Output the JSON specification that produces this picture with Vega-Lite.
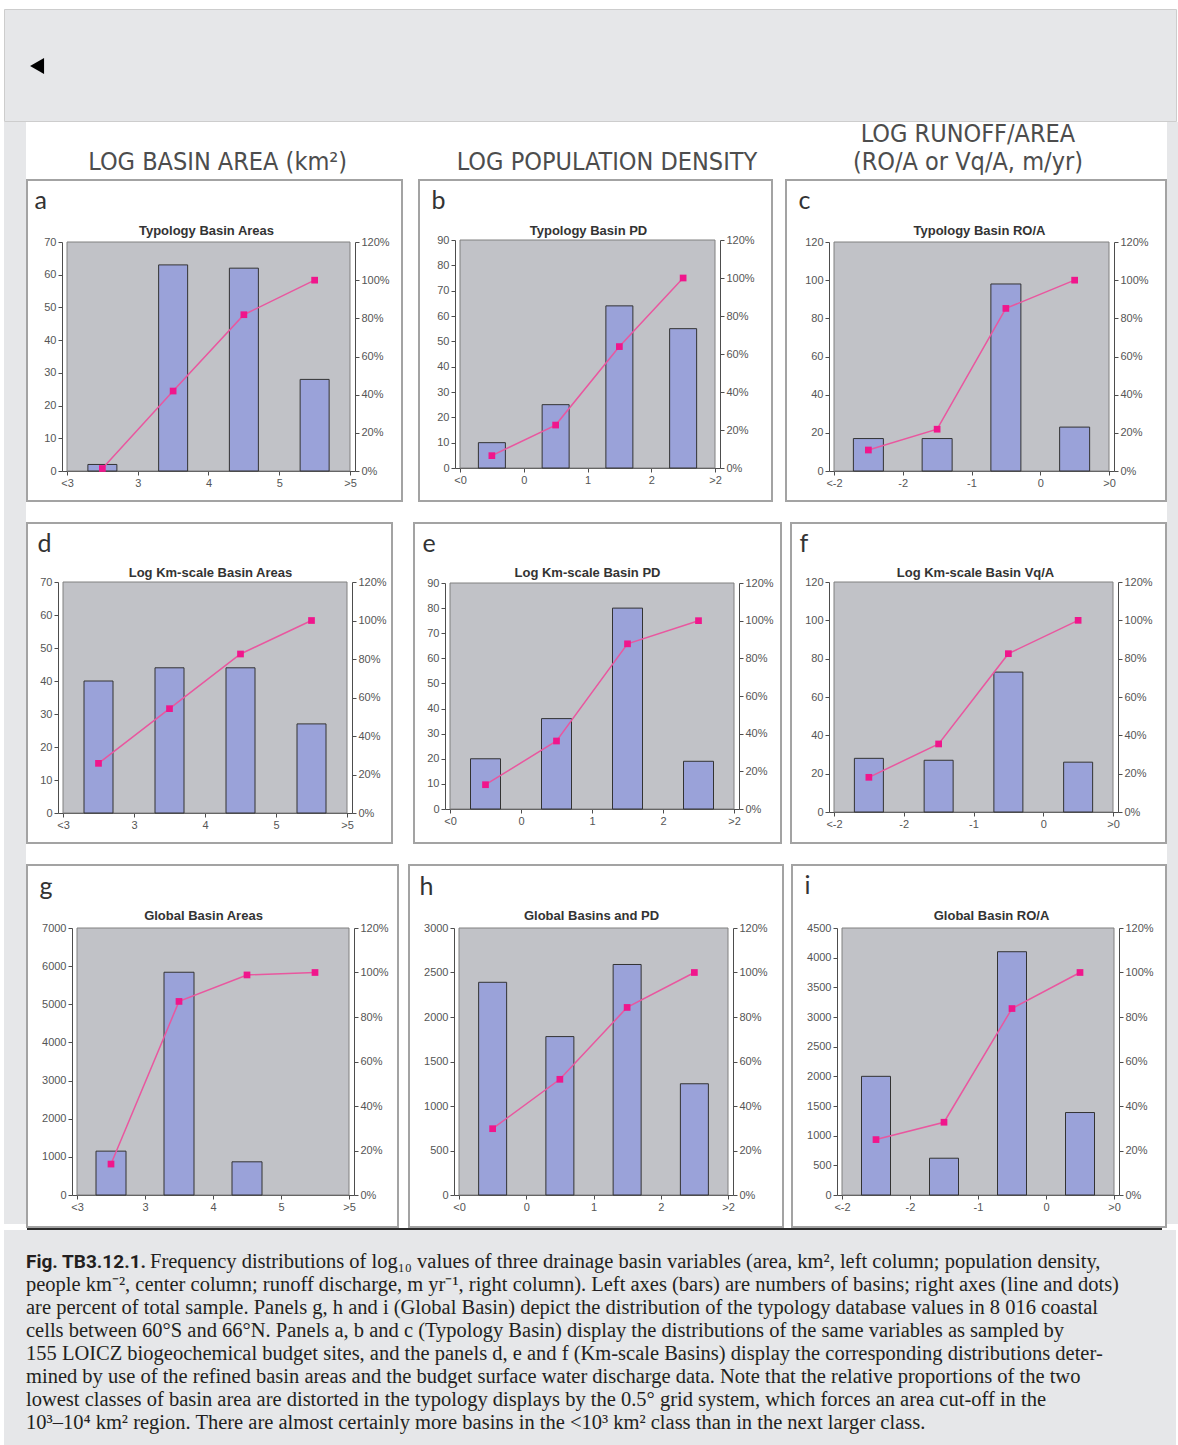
{
  "$schema": "https://vega.github.io/schema/vega-lite/v6.json",
  "background": "#ffffff",
  "padding": {"left": 3, "top": 8, "right": 3, "bottom": 0},
  "spacing": 0,
  "config": {
    "view": {"stroke": null},
    "concat": {"spacing": 0},
    "axis": {
      "grid": false, "domainColor": "#4d4d4d", "tickColor": "#4d4d4d", "tickSize": 4,
      "labelColor": "#555555", "labelFont": "Liberation Sans", "labelFontSize": 11,
      "labelPadding": 2, "labelOverlap": false, "labelFlush": false, "zindex": 1, "titlePadding": 0
    },
    "axisLeft": {
      "titleFont": "Lato", "titleFontSize": 25, "titleFontWeight": "normal", "titleColor": "#333333",
      "titleAngle": 0, "titleAlign": "left", "titleBaseline": "alphabetic"
    },
    "axisBottom": {
      "titleFont": "Liberation Sans", "titleFontSize": 13, "titleFontWeight": "bold", "titleColor": "#333333",
      "titleAlign": "center", "titleBaseline": "middle"
    },
    "line": {"color": "#e9579f", "strokeWidth": 1.5, "point": {"shape": "square", "filled": true, "size": 45, "color": "#f0168c", "opacity": 1}},
    "bar": {"fill": "#9aa2d9", "stroke": "#333333", "strokeWidth": 1, "orient": "vertical"},
    "rect": {"fill": "#c1c2c7", "stroke": "#808080", "strokeWidth": 1}
  },
  "datasets": {
    "a": [{"mid": 2.5, "count": 2, "cum": 1.3}, {"mid": 3.5, "count": 63, "cum": 41.9}, {"mid": 4.5, "count": 62, "cum": 81.9}, {"mid": 5.5, "count": 28, "cum": 100}],
    "b": [{"mid": -0.5, "count": 10, "cum": 6.5}, {"mid": 0.5, "count": 25, "cum": 22.6}, {"mid": 1.5, "count": 64, "cum": 63.9}, {"mid": 2.5, "count": 55, "cum": 100}],
    "c": [{"mid": -2.5, "count": 17, "cum": 11.0}, {"mid": -1.5, "count": 17, "cum": 21.9}, {"mid": -0.5, "count": 98, "cum": 85.2}, {"mid": 0.5, "count": 23, "cum": 100}],
    "d": [{"mid": 2.5, "count": 40, "cum": 25.8}, {"mid": 3.5, "count": 44, "cum": 54.2}, {"mid": 4.5, "count": 44, "cum": 82.6}, {"mid": 5.5, "count": 27, "cum": 100}],
    "e": [{"mid": -0.5, "count": 20, "cum": 12.9}, {"mid": 0.5, "count": 36, "cum": 36.1}, {"mid": 1.5, "count": 80, "cum": 87.7}, {"mid": 2.5, "count": 19, "cum": 100}],
    "f": [{"mid": -2.5, "count": 28, "cum": 18.1}, {"mid": -1.5, "count": 27, "cum": 35.5}, {"mid": -0.5, "count": 73, "cum": 82.6}, {"mid": 0.5, "count": 26, "cum": 100}],
    "g": [{"mid": 2.5, "count": 1150, "cum": 13.9}, {"mid": 3.5, "count": 5840, "cum": 87.0}, {"mid": 4.5, "count": 870, "cum": 98.9}, {"mid": 5.5, "count": null, "cum": 100}],
    "h": [{"mid": -0.5, "count": 2390, "cum": 29.8}, {"mid": 0.5, "count": 1780, "cum": 52.0}, {"mid": 1.5, "count": 2590, "cum": 84.3}, {"mid": 2.5, "count": 1250, "cum": 100}],
    "i": [{"mid": -2.5, "count": 2000, "cum": 24.9}, {"mid": -1.5, "count": 620, "cum": 32.7}, {"mid": -0.5, "count": 4100, "cum": 83.8}, {"mid": 0.5, "count": 1390, "cum": 100}],
    "caption": [
      {"line": 1, "text": "Frequency distributions of log₁₀ values of three drainage basin variables (area, km², left column; population density,"},
      {"line": 2, "text": "people km⁻², center column; runoff discharge, m yr⁻¹, right column). Left axes (bars) are numbers of basins; right axes (line and dots)"},
      {"line": 3, "text": "are percent of total sample. Panels g, h and i (Global Basin) depict the distribution of the typology database values in 8 016 coastal"},
      {"line": 4, "text": "cells between 60°S and 66°N. Panels a, b and c (Typology Basin) display the distributions of the same variables as sampled by"},
      {"line": 5, "text": "155 LOICZ biogeochemical budget sites, and the panels d, e and f (Km-scale Basins) display the corresponding distributions deter-"},
      {"line": 6, "text": "mined by use of the refined basin areas and the budget surface water discharge data. Note that the relative proportions of the two"},
      {"line": 7, "text": "lowest classes of basin area are distorted in the typology displays by the 0.5° grid system, which forces an area cut-off in the"},
      {"line": 8, "text": "10³–10⁴ km² region. There are almost certainly more basins in the <10³ km² class than in the next larger class."}
    ]
  },
  "vconcat": [
    {
      "width": 1172, "height": 112,
      "view": {"fill": "#e6e7e9", "stroke": "#cdcdcd", "strokeWidth": 1},
      "data": {"values": [{}]},
      "mark": {"type": "point", "shape": "triangle-left", "filled": true, "color": "#000000", "size": 260, "opacity": 1},
      "encoding": {
        "x": {"datum": 0.0282, "type": "quantitative", "scale": {"domain": [0, 1]}, "axis": null},
        "y": {"datum": 0.491, "type": "quantitative", "scale": {"domain": [0, 1]}, "axis": null}
      }
    },
    {
      "spacing": 0,
      "hconcat": [
        {"width": 22, "height": 1102, "view": {"fill": "#e6e7e9", "stroke": null}, "data": {"values": []}, "mark": "point", "encoding": {}},
        {
          "spacing": 0,
          "vconcat": [
            {
              "width": 1135, "height": 57,
              "view": {"fill": "#ffffff", "stroke": null},
              "data": {"values": [{}]},
              "layer": [
                {"mark": {"type": "text", "text": "LOG BASIN AREA (km²)", "font": "'Liberation Sans Narrow', 'DejaVu Sans Condensed', Roboto, sans-serif", "fontSize": 25, "color": "#4d4d4d", "align": "center", "baseline": "alphabetic"},
                 "encoding": {"x": {"datum": 0.168, "type": "quantitative", "scale": {"domain": [0, 1]}, "axis": null}, "y": {"datum": 0.158, "type": "quantitative", "scale": {"domain": [0, 1]}, "axis": null}}},
                {"mark": {"type": "text", "text": "LOG POPULATION DENSITY", "font": "'Liberation Sans Narrow', 'DejaVu Sans Condensed', Roboto, sans-serif", "fontSize": 25, "color": "#4d4d4d", "align": "center", "baseline": "alphabetic"},
                 "encoding": {"x": {"datum": 0.511, "type": "quantitative", "scale": {"domain": [0, 1]}, "axis": null}, "y": {"datum": 0.158, "type": "quantitative", "scale": {"domain": [0, 1]}, "axis": null}}},
                {"mark": {"type": "text", "text": "LOG RUNOFF/AREA", "font": "'Liberation Sans Narrow', 'DejaVu Sans Condensed', Roboto, sans-serif", "fontSize": 25, "color": "#4d4d4d", "align": "center", "baseline": "alphabetic"},
                 "encoding": {"x": {"datum": 0.829, "type": "quantitative", "scale": {"domain": [0, 1]}, "axis": null}, "y": {"datum": 0.649, "type": "quantitative", "scale": {"domain": [0, 1]}, "axis": null}}},
                {"mark": {"type": "text", "text": "(RO/A or Vq/A, m/yr)", "font": "'Liberation Sans Narrow', 'DejaVu Sans Condensed', Roboto, sans-serif", "fontSize": 25, "color": "#4d4d4d", "align": "center", "baseline": "alphabetic"},
                 "encoding": {"x": {"datum": 0.829, "type": "quantitative", "scale": {"domain": [0, 1]}, "axis": null}, "y": {"datum": 0.158, "type": "quantitative", "scale": {"domain": [0, 1]}, "axis": null}}}
              ]
            },
            {
              "spacing": 20,
              "vconcat": [
                {
                  "spacing": 12,
                  "hconcat": [
                    {
                      "spacing": 15,
                      "hconcat": [
                        {
                          "width": 375, "height": 321,
                          "view": {"fill": "#ffffff", "stroke": "#a3a3a3", "strokeWidth": 2},
                          "data": {"name": "a"},
                          "resolve": {"scale": {"y": "independent"}},
                          "layer": [
                            {"data": {"values": [{}]}, "mark": "rect",
                             "encoding": {
                               "x": {"datum": 2, "type": "quantitative", "scale": {"domain": [2, 6], "range": [35, 328], "nice": false, "zero": false}},
                               "x2": {"datum": 6},
                               "y": {"datum": 0, "type": "quantitative", "scale": {"domain": [0, 1], "range": [291, 62], "nice": false}, "axis": null},
                               "y2": {"datum": 1}}},
                            {"mark": {"type": "bar", "size": 29},
                             "encoding": {
                               "x": {"field": "mid", "type": "quantitative", "scale": {"domain": [2, 6], "range": [35, 328], "nice": false, "zero": false},
                                     "axis": {"orient": "bottom", "offset": -30, "values": [2, 3, 4, 5, 6], "labelExpr": "datum.value == 2 ? '<3' : datum.value == 6 ? '>5' : '' + datum.value", "title": "Typology Basin Areas", "titleX": 179, "titleY": -241}},
                               "y": {"field": "count", "type": "quantitative", "scale": {"domain": [0, 70], "range": [291, 62], "nice": false},
                                     "axis": {"orient": "left", "offset": -35, "values": [0, 10, 20, 30, 40, 50, 60, 70], "format": "d", "title": "a", "titleX": -28, "titleY": 28}}}},
                            {"mark": "line",
                             "encoding": {
                               "x": {"field": "mid", "type": "quantitative", "scale": {"domain": [2, 6], "range": [35, 328], "nice": false, "zero": false}},
                               "y": {"field": "cum", "type": "quantitative", "scale": {"domain": [0, 120], "range": [291, 62], "nice": false},
                                     "axis": {"orient": "right", "offset": -47, "values": [0, 20, 40, 60, 80, 100, 120], "labelExpr": "datum.value + '%'", "title": null}}}}
                          ]
                        },
                        {
                          "width": 353, "height": 321,
                          "view": {"fill": "#ffffff", "stroke": "#a3a3a3", "strokeWidth": 2},
                          "data": {"name": "b"},
                          "resolve": {"scale": {"y": "independent"}},
                          "layer": [
                            {"data": {"values": [{}]}, "mark": "rect",
                             "encoding": {
                               "x": {"datum": -1, "type": "quantitative", "scale": {"domain": [-1, 3], "range": [36, 301], "nice": false, "zero": false}},
                               "x2": {"datum": 3},
                               "y": {"datum": 0, "type": "quantitative", "scale": {"domain": [0, 1], "range": [288, 60], "nice": false}, "axis": null},
                               "y2": {"datum": 1}}},
                            {"mark": {"type": "bar", "size": 27},
                             "encoding": {
                               "x": {"field": "mid", "type": "quantitative", "scale": {"domain": [-1, 3], "range": [36, 301], "nice": false, "zero": false},
                                     "axis": {"orient": "bottom", "offset": -33, "values": [-1, 0, 1, 2, 3], "labelExpr": "datum.value == -1 ? '<0' : datum.value == 3 ? '>2' : '' + datum.value", "title": "Typology Basin PD", "titleX": 169, "titleY": -238}},
                               "y": {"field": "count", "type": "quantitative", "scale": {"domain": [0, 90], "range": [288, 60], "nice": false},
                                     "axis": {"orient": "left", "offset": -36, "values": [0, 10, 20, 30, 40, 50, 60, 70, 80, 90], "format": "d", "title": "b", "titleX": -24, "titleY": 28}}}},
                            {"mark": "line",
                             "encoding": {
                               "x": {"field": "mid", "type": "quantitative", "scale": {"domain": [-1, 3], "range": [36, 301], "nice": false, "zero": false}},
                               "y": {"field": "cum", "type": "quantitative", "scale": {"domain": [0, 120], "range": [288, 60], "nice": false},
                                     "axis": {"orient": "right", "offset": -52, "values": [0, 20, 40, 60, 80, 100, 120], "labelExpr": "datum.value + '%'", "title": null}}}}
                          ]
                        }
                      ]
                    },
                    {
                      "width": 380, "height": 321,
                      "view": {"fill": "#ffffff", "stroke": "#a3a3a3", "strokeWidth": 2},
                      "data": {"name": "c"},
                      "resolve": {"scale": {"y": "independent"}},
                      "layer": [
                        {"data": {"values": [{}]}, "mark": "rect",
                         "encoding": {
                           "x": {"datum": -3, "type": "quantitative", "scale": {"domain": [-3, 1], "range": [43, 328], "nice": false, "zero": false}},
                           "x2": {"datum": 1},
                           "y": {"datum": 0, "type": "quantitative", "scale": {"domain": [0, 1], "range": [291, 62], "nice": false}, "axis": null},
                           "y2": {"datum": 1}}},
                        {"mark": {"type": "bar", "size": 30},
                         "encoding": {
                           "x": {"field": "mid", "type": "quantitative", "scale": {"domain": [-3, 1], "range": [43, 328], "nice": false, "zero": false},
                                 "axis": {"orient": "bottom", "offset": -30, "values": [-3, -2, -1, 0, 1], "labelExpr": "datum.value == -3 ? '<-2' : datum.value == 1 ? '>0' : '' + datum.value", "title": "Typology Basin RO/A", "titleX": 193, "titleY": -241}},
                           "y": {"field": "count", "type": "quantitative", "scale": {"domain": [0, 120], "range": [291, 62], "nice": false},
                                 "axis": {"orient": "left", "offset": -43, "values": [0, 20, 40, 60, 80, 100, 120], "format": "d", "title": "c", "titleX": -31, "titleY": 28}}}},
                        {"mark": "line",
                         "encoding": {
                           "x": {"field": "mid", "type": "quantitative", "scale": {"domain": [-3, 1], "range": [43, 328], "nice": false, "zero": false}},
                           "y": {"field": "cum", "type": "quantitative", "scale": {"domain": [0, 120], "range": [291, 62], "nice": false},
                                 "axis": {"orient": "right", "offset": -52, "values": [0, 20, 40, 60, 80, 100, 120], "labelExpr": "datum.value + '%'", "title": null}}}}
                      ]
                    }
                  ]
                },
                {
                  "spacing": 8,
                  "hconcat": [
                    {
                      "spacing": 20,
                      "hconcat": [
                        {
                          "width": 365, "height": 320,
                          "view": {"fill": "#ffffff", "stroke": "#a3a3a3", "strokeWidth": 2},
                          "data": {"name": "d"},
                          "resolve": {"scale": {"y": "independent"}},
                          "layer": [
                            {"data": {"values": [{}]}, "mark": "rect",
                             "encoding": {
                               "x": {"datum": 2, "type": "quantitative", "scale": {"domain": [2, 6], "range": [31, 325], "nice": false, "zero": false}},
                               "x2": {"datum": 6},
                               "y": {"datum": 0, "type": "quantitative", "scale": {"domain": [0, 1], "range": [290, 59], "nice": false}, "axis": null},
                               "y2": {"datum": 1}}},
                            {"mark": {"type": "bar", "size": 29},
                             "encoding": {
                               "x": {"field": "mid", "type": "quantitative", "scale": {"domain": [2, 6], "range": [31, 325], "nice": false, "zero": false},
                                     "axis": {"orient": "bottom", "offset": -30, "values": [2, 3, 4, 5, 6], "labelExpr": "datum.value == 2 ? '<3' : datum.value == 6 ? '>5' : '' + datum.value", "title": "Log Km-scale Basin Areas", "titleX": 183, "titleY": -241}},
                               "y": {"field": "count", "type": "quantitative", "scale": {"domain": [0, 70], "range": [290, 59], "nice": false},
                                     "axis": {"orient": "left", "offset": -31, "values": [0, 10, 20, 30, 40, 50, 60, 70], "format": "d", "title": "d", "titleX": -21, "titleY": 28}}}},
                            {"mark": "line",
                             "encoding": {
                               "x": {"field": "mid", "type": "quantitative", "scale": {"domain": [2, 6], "range": [31, 325], "nice": false, "zero": false}},
                               "y": {"field": "cum", "type": "quantitative", "scale": {"domain": [0, 120], "range": [290, 59], "nice": false},
                                     "axis": {"orient": "right", "offset": -40, "values": [0, 20, 40, 60, 80, 100, 120], "labelExpr": "datum.value + '%'", "title": null}}}}
                          ]
                        },
                        {
                          "width": 367, "height": 320,
                          "view": {"fill": "#ffffff", "stroke": "#a3a3a3", "strokeWidth": 2},
                          "data": {"name": "e"},
                          "resolve": {"scale": {"y": "independent"}},
                          "layer": [
                            {"data": {"values": [{}]}, "mark": "rect",
                             "encoding": {
                               "x": {"datum": -1, "type": "quantitative", "scale": {"domain": [-1, 3], "range": [31, 325], "nice": false, "zero": false}},
                               "x2": {"datum": 3},
                               "y": {"datum": 0, "type": "quantitative", "scale": {"domain": [0, 1], "range": [286, 60], "nice": false}, "axis": null},
                               "y2": {"datum": 1}}},
                            {"mark": {"type": "bar", "size": 30},
                             "encoding": {
                               "x": {"field": "mid", "type": "quantitative", "scale": {"domain": [-1, 3], "range": [31, 325], "nice": false, "zero": false},
                                     "axis": {"orient": "bottom", "offset": -34, "values": [-1, 0, 1, 2, 3], "labelExpr": "datum.value == -1 ? '<0' : datum.value == 3 ? '>2' : '' + datum.value", "title": "Log Km-scale Basin PD", "titleX": 173, "titleY": -237}},
                               "y": {"field": "count", "type": "quantitative", "scale": {"domain": [0, 90], "range": [286, 60], "nice": false},
                                     "axis": {"orient": "left", "offset": -31, "values": [0, 10, 20, 30, 40, 50, 60, 70, 80, 90], "format": "d", "title": "e", "titleX": -23, "titleY": 28}}}},
                            {"mark": "line",
                             "encoding": {
                               "x": {"field": "mid", "type": "quantitative", "scale": {"domain": [-1, 3], "range": [31, 325], "nice": false, "zero": false}},
                               "y": {"field": "cum", "type": "quantitative", "scale": {"domain": [0, 120], "range": [286, 60], "nice": false},
                                     "axis": {"orient": "right", "offset": -42, "values": [0, 20, 40, 60, 80, 100, 120], "labelExpr": "datum.value + '%'", "title": null}}}}
                          ]
                        }
                      ]
                    },
                    {
                      "width": 375, "height": 320,
                      "view": {"fill": "#ffffff", "stroke": "#a3a3a3", "strokeWidth": 2},
                      "data": {"name": "f"},
                      "resolve": {"scale": {"y": "independent"}},
                      "layer": [
                        {"data": {"values": [{}]}, "mark": "rect",
                         "encoding": {
                           "x": {"datum": -3, "type": "quantitative", "scale": {"domain": [-3, 1], "range": [38, 327], "nice": false, "zero": false}},
                           "x2": {"datum": 1},
                           "y": {"datum": 0, "type": "quantitative", "scale": {"domain": [0, 1], "range": [289, 59], "nice": false}, "axis": null},
                           "y2": {"datum": 1}}},
                        {"mark": {"type": "bar", "size": 29},
                         "encoding": {
                           "x": {"field": "mid", "type": "quantitative", "scale": {"domain": [-3, 1], "range": [38, 327], "nice": false, "zero": false},
                                 "axis": {"orient": "bottom", "offset": -31, "values": [-3, -2, -1, 0, 1], "labelExpr": "datum.value == -3 ? '<-2' : datum.value == 1 ? '>0' : '' + datum.value", "title": "Log Km-scale Basin Vq/A", "titleX": 184, "titleY": -240}},
                           "y": {"field": "count", "type": "quantitative", "scale": {"domain": [0, 120], "range": [289, 59], "nice": false},
                                 "axis": {"orient": "left", "offset": -38, "values": [0, 20, 40, 60, 80, 100, 120], "format": "d", "title": "f", "titleX": -30, "titleY": 28}}}},
                        {"mark": "line",
                         "encoding": {
                           "x": {"field": "mid", "type": "quantitative", "scale": {"domain": [-3, 1], "range": [38, 327], "nice": false, "zero": false}},
                           "y": {"field": "cum", "type": "quantitative", "scale": {"domain": [0, 120], "range": [289, 59], "nice": false},
                                 "axis": {"orient": "right", "offset": -48, "values": [0, 20, 40, 60, 80, 100, 120], "labelExpr": "datum.value + '%'", "title": null}}}}
                      ]
                    }
                  ]
                },
                {
                  "spacing": 7,
                  "hconcat": [
                    {
                      "spacing": 9,
                      "hconcat": [
                        {
                          "width": 371, "height": 362,
                          "view": {"fill": "#ffffff", "stroke": "#a3a3a3", "strokeWidth": 2},
                          "data": {"name": "g"},
                          "resolve": {"scale": {"y": "independent"}},
                          "layer": [
                            {"data": {"values": [{}]}, "mark": "rect",
                             "encoding": {
                               "x": {"datum": 2, "type": "quantitative", "scale": {"domain": [2, 6], "range": [45, 327], "nice": false, "zero": false}},
                               "x2": {"datum": 6},
                               "y": {"datum": 0, "type": "quantitative", "scale": {"domain": [0, 1], "range": [330, 63], "nice": false}, "axis": null},
                               "y2": {"datum": 1}}},
                            {"mark": {"type": "bar", "size": 30},
                             "encoding": {
                               "x": {"field": "mid", "type": "quantitative", "scale": {"domain": [2, 6], "range": [45, 327], "nice": false, "zero": false},
                                     "axis": {"orient": "bottom", "offset": -32, "values": [2, 3, 4, 5, 6], "labelExpr": "datum.value == 2 ? '<3' : datum.value == 6 ? '>5' : '' + datum.value", "title": "Global Basin Areas", "titleX": 176, "titleY": -280}},
                               "y": {"field": "count", "type": "quantitative", "scale": {"domain": [0, 7000], "range": [330, 63], "nice": false},
                                     "axis": {"orient": "left", "offset": -45, "values": [0, 1000, 2000, 3000, 4000, 5000, 6000, 7000], "format": "d", "title": "g", "titleX": -33, "titleY": 29}}}},
                            {"mark": "line",
                             "encoding": {
                               "x": {"field": "mid", "type": "quantitative", "scale": {"domain": [2, 6], "range": [45, 327], "nice": false, "zero": false}},
                               "y": {"field": "cum", "type": "quantitative", "scale": {"domain": [0, 120], "range": [330, 63], "nice": false},
                                     "axis": {"orient": "right", "offset": -44, "values": [0, 20, 40, 60, 80, 100, 120], "labelExpr": "datum.value + '%'", "title": null}}}}
                          ]
                        },
                        {
                          "width": 374, "height": 362,
                          "view": {"fill": "#ffffff", "stroke": "#a3a3a3", "strokeWidth": 2},
                          "data": {"name": "h"},
                          "resolve": {"scale": {"y": "independent"}},
                          "layer": [
                            {"data": {"values": [{}]}, "mark": "rect",
                             "encoding": {
                               "x": {"datum": -1, "type": "quantitative", "scale": {"domain": [-1, 3], "range": [45, 324], "nice": false, "zero": false}},
                               "x2": {"datum": 3},
                               "y": {"datum": 0, "type": "quantitative", "scale": {"domain": [0, 1], "range": [330, 63], "nice": false}, "axis": null},
                               "y2": {"datum": 1}}},
                            {"mark": {"type": "bar", "size": 28},
                             "encoding": {
                               "x": {"field": "mid", "type": "quantitative", "scale": {"domain": [-1, 3], "range": [45, 324], "nice": false, "zero": false},
                                     "axis": {"orient": "bottom", "offset": -32, "values": [-1, 0, 1, 2, 3], "labelExpr": "datum.value == -1 ? '<0' : datum.value == 3 ? '>2' : '' + datum.value", "title": "Global Basins and PD", "titleX": 182, "titleY": -280}},
                               "y": {"field": "count", "type": "quantitative", "scale": {"domain": [0, 3000], "range": [330, 63], "nice": false},
                                     "axis": {"orient": "left", "offset": -45, "values": [0, 500, 1000, 1500, 2000, 2500, 3000], "format": "d", "title": "h", "titleX": -35, "titleY": 29}}}},
                            {"mark": "line",
                             "encoding": {
                               "x": {"field": "mid", "type": "quantitative", "scale": {"domain": [-1, 3], "range": [45, 324], "nice": false, "zero": false}},
                               "y": {"field": "cum", "type": "quantitative", "scale": {"domain": [0, 120], "range": [330, 63], "nice": false},
                                     "axis": {"orient": "right", "offset": -50, "values": [0, 20, 40, 60, 80, 100, 120], "labelExpr": "datum.value + '%'", "title": null}}}}
                          ]
                        }
                      ]
                    },
                    {
                      "width": 374, "height": 362,
                      "view": {"fill": "#ffffff", "stroke": "#a3a3a3", "strokeWidth": 2},
                      "data": {"name": "i"},
                      "resolve": {"scale": {"y": "independent"}},
                      "layer": [
                        {"data": {"values": [{}]}, "mark": "rect",
                         "encoding": {
                           "x": {"datum": -3, "type": "quantitative", "scale": {"domain": [-3, 1], "range": [45, 327], "nice": false, "zero": false}},
                           "x2": {"datum": 1},
                           "y": {"datum": 0, "type": "quantitative", "scale": {"domain": [0, 1], "range": [330, 63], "nice": false}, "axis": null},
                           "y2": {"datum": 1}}},
                        {"mark": {"type": "bar", "size": 29},
                         "encoding": {
                           "x": {"field": "mid", "type": "quantitative", "scale": {"domain": [-3, 1], "range": [45, 327], "nice": false, "zero": false},
                                 "axis": {"orient": "bottom", "offset": -32, "values": [-3, -2, -1, 0, 1], "labelExpr": "datum.value == -3 ? '<-2' : datum.value == 1 ? '>0' : '' + datum.value", "title": "Global Basin RO/A", "titleX": 199, "titleY": -280}},
                           "y": {"field": "count", "type": "quantitative", "scale": {"domain": [0, 4500], "range": [330, 63], "nice": false},
                                 "axis": {"orient": "left", "offset": -45, "values": [0, 500, 1000, 1500, 2000, 2500, 3000, 3500, 4000, 4500], "format": "d", "title": "i", "titleX": -33, "titleY": 28}}}},
                        {"mark": "line",
                         "encoding": {
                           "x": {"field": "mid", "type": "quantitative", "scale": {"domain": [-3, 1], "range": [45, 327], "nice": false, "zero": false}},
                           "y": {"field": "cum", "type": "quantitative", "scale": {"domain": [0, 120], "range": [330, 63], "nice": false},
                                 "axis": {"orient": "right", "offset": -47, "values": [0, 20, 40, 60, 80, 100, 120], "labelExpr": "datum.value + '%'", "title": null}}}}
                      ]
                    }
                  ]
                }
              ]
            },
            {"width": 1135, "height": 2, "view": {"fill": "#2b2b2b", "stroke": null}, "data": {"values": []}, "mark": "point", "encoding": {}}
          ]
        },
        {"width": 15, "height": 1102, "view": {"fill": "#e6e7e9", "stroke": null}, "data": {"values": []}, "mark": "point", "encoding": {}}
      ]
    },
    {
      "width": 1172, "height": 223,
      "view": {"fill": "#e6e7e9", "stroke": null},
      "layer": [
        {"data": {"name": "caption"},
         "transform": [{"filter": "datum.line > 1"}],
         "mark": {"type": "text", "align": "left", "baseline": "alphabetic", "font": "'Liberation Serif', serif", "fontSize": 20.5, "color": "#231f20"},
         "encoding": {
           "x": {"datum": 0, "type": "quantitative", "scale": {"domain": [0, 1], "range": [22, 1157]}, "axis": null},
           "y": {"field": "line", "type": "quantitative", "scale": {"domain": [1, 8], "range": [38, 199], "zero": false, "nice": false}, "axis": null},
           "text": {"field": "text"}}},
        {"data": {"name": "caption"},
         "transform": [{"filter": "datum.line == 1"}],
         "mark": {"type": "text", "align": "left", "baseline": "alphabetic", "font": "'Liberation Serif', serif", "fontSize": 20.5, "color": "#231f20", "dx": 124},
         "encoding": {
           "x": {"datum": 0, "type": "quantitative", "scale": {"domain": [0, 1], "range": [22, 1157]}, "axis": null},
           "y": {"field": "line", "type": "quantitative", "scale": {"domain": [1, 8], "range": [38, 199], "zero": false, "nice": false}, "axis": null},
           "text": {"field": "text"}}},
        {"data": {"values": [{"line": 1, "text": "Fig. TB3.12.1."}]},
         "mark": {"type": "text", "align": "left", "baseline": "alphabetic", "font": "Roboto, sans-serif", "fontWeight": "bold", "fontSize": 19, "color": "#231f20"},
         "encoding": {
           "x": {"datum": 0, "type": "quantitative", "scale": {"domain": [0, 1], "range": [22, 1157]}, "axis": null},
           "y": {"field": "line", "type": "quantitative", "scale": {"domain": [1, 8], "range": [38, 199], "zero": false, "nice": false}, "axis": null},
           "text": {"field": "text"}}}
      ]
    }
  ]
}
